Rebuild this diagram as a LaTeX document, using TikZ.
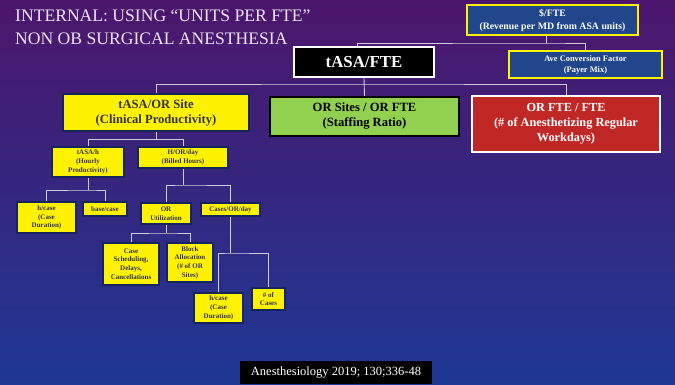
\documentclass[tikz,border=0pt]{standalone}
\usepackage{fontspec}
\setmainfont{Liberation Serif}[BoldFont={Liberation Serif Bold}]
\newfontfamily\tnr{Liberation Serif}[BoldFont={Liberation Serif Bold}]
\begin{document}
\definecolor{bgtop}{RGB}{76,22,108}
\definecolor{bgmid}{RGB}{58,34,124}
\definecolor{bgbot}{RGB}{30,56,148}
\definecolor{navy}{RGB}{22,36,92}
\definecolor{ytext}{RGB}{50,50,80}
\definecolor{boxblue}{RGB}{34,70,140}
\definecolor{boxgreen}{RGB}{146,208,80}
\definecolor{boxred}{RGB}{192,40,38}
\definecolor{titletext}{RGB}{236,228,244}
\definecolor{wire}{RGB}{205,205,222}
\begin{tikzpicture}[x=1pt,y=-1pt,
  conn/.style={draw=wire, line width=0.9pt},
  basebox/.style={align=center, inner sep=0pt, font=\tnr\bfseries},
  ybox/.style={basebox, draw=navy, line width=1.6pt, fill=yellow, text=ytext,
    font=\tnr\bfseries\fontsize{7}{8.7}\selectfont},
  bigybox/.style={basebox, draw=navy, line width=1.8pt, fill=yellow, text=ytext,
    font=\tnr\bfseries\fontsize{12.6}{15}\selectfont},
  bluebox/.style={basebox, draw=yellow, line width=1.4pt, fill=boxblue, text=white}
]
% background
\shade[top color=bgtop, middle color=bgmid, bottom color=bgbot] (0,0) rectangle (675,384);
\useasboundingbox (0,0) rectangle (675,384);

% heading
\node[anchor=base west, text=titletext, font=\tnr\fontsize{17.6}{22}\selectfont, inner sep=0pt]
  (title1) at (15,21.7) {INTERNAL: USING “UNITS PER FTE”};
\node[anchor=base west, text=titletext, font=\tnr\fontsize{17.6}{22}\selectfont, inner sep=0pt]
  (title2) at (15,44) {NON OB SURGICAL ANESTHESIA};

% top level
\node[bluebox, minimum width=171pt, minimum height=30pt, font=\tnr\bfseries\fontsize{9.8}{13}\selectfont]
  (dollar) at (552.5,20) {\$/FTE\\(Revenue per MD from ASA units)};
\node[bluebox, minimum width=153pt, minimum height=27pt, font=\tnr\bfseries\fontsize{8.4}{11}\selectfont]
  (ave) at (585.5,64.5) {Ave Conversion Factor\\(Payer Mix)};
\node[basebox, draw=white, line width=2.4pt, fill=black, text=white,
  minimum width=140pt, minimum height=30pt, font=\tnr\bfseries\fontsize{16.8}{20}\selectfont]
  (tasafte) at (364,62) {tASA/FTE};

% second level
\node[bigybox, minimum width=186pt, minimum height=37pt]
  (tasaor) at (156,112.5) {tASA/OR Site\\(Clinical Productivity)};
\node[basebox, draw=black, line width=2.2pt, fill=boxgreen, text=black,
  minimum width=189pt, minimum height=39pt, font=\tnr\bfseries\fontsize{12.6}{15}\selectfont]
  (orsites) at (364.5,116.5) {OR Sites / OR FTE\\(Staffing Ratio)};
\node[basebox, draw=white, line width=2pt, fill=boxred, text=white,
  minimum width=188pt, minimum height=56pt, font=\tnr\bfseries\fontsize{12.3}{15}\selectfont]
  (orfte) at (566,124) {OR FTE / FTE\\(\# of Anesthetizing Regular\\Workdays)};

% third level
\node[ybox, minimum width=72pt, minimum height=30pt] (tasah) at (88,162) {tASA/h\\(Hourly\\Productivity)};
\node[ybox, minimum width=90pt, minimum height=21pt] (horday) at (183,157.5) {H/OR/day\\(Billed Hours)};

% fourth level
\node[ybox, minimum width=59pt, minimum height=31pt] (hcasea) at (46.5,217.5) {h/case\\(Case\\Duration)};
\node[ybox, minimum width=44pt, minimum height=14pt] (basecase) at (105,209) {base/case};
\node[ybox, minimum width=50pt, minimum height=21pt] (orutil) at (166,213.5) {OR\\Utilization};
\node[ybox, minimum width=59pt, minimum height=13pt] (casesday) at (230.5,209.5) {Cases/OR/day};

% fifth level
\node[ybox, minimum width=56pt, minimum height=42pt] (casesched) at (131,264) {Case\\Scheduling,\\Delays,\\Cancellations};
\node[ybox, minimum width=46pt, minimum height=39pt] (block) at (190,262.5) {Block\\Allocation\\(\# of OR\\Sites)};
\node[ybox, minimum width=49pt, minimum height=30pt] (hcaseb) at (218.5,308) {h/case\\(Case\\Duration)};
\node[ybox, minimum width=33pt, minimum height=22pt] (ncases) at (268.5,299) {\# of\\Cases};

% citation
\node[fill=black, text=white, inner sep=0pt, minimum width=192pt, minimum height=23pt,
  font=\tnr\fontsize{12.5}{15}\selectfont] (cite) at (336,372.5) {Anesthesiology 2019; 130;336-48};

% connectors
\coordinate (j1) at (546,43);
\draw[conn] ([xshift=-6.5pt]dollar.south) -- (j1);
\draw[conn] ([xshift=-7pt]tasafte.north) |- (j1) -| (ave.north);

\coordinate (j2) at (364,84);
\draw[conn] (tasafte.south) -- (orsites.north);
\draw[conn] (tasaor.north) |- (j2) -| (orfte.north);

\coordinate (j3) at (156,139.5);
\draw[conn] (tasaor.south) -- (j3);
\draw[conn] (tasah.north) |- (j3) -| (horday.north);

\coordinate (j4) at (88,190);
\draw[conn] (tasah.south) -- (j4);
\draw[conn] (hcasea.north) |- (j4) -| (basecase.north);

\coordinate (j5) at (183,185);
\draw[conn] (horday.south) -- (j5);
\draw[conn] (orutil.north) |- (j5) -| (casesday.north);

\coordinate (j6) at (166,233);
\draw[conn] (orutil.south) -- (j6);
\draw[conn] (casesched.north) |- (j6) -| (block.north);

\coordinate (j7) at (230.5,253);
\draw[conn] (casesday.south) -- (j7);
\draw[conn] (hcaseb.north) |- (j7) -| (ncases.north);
\end{tikzpicture}
\end{document}
